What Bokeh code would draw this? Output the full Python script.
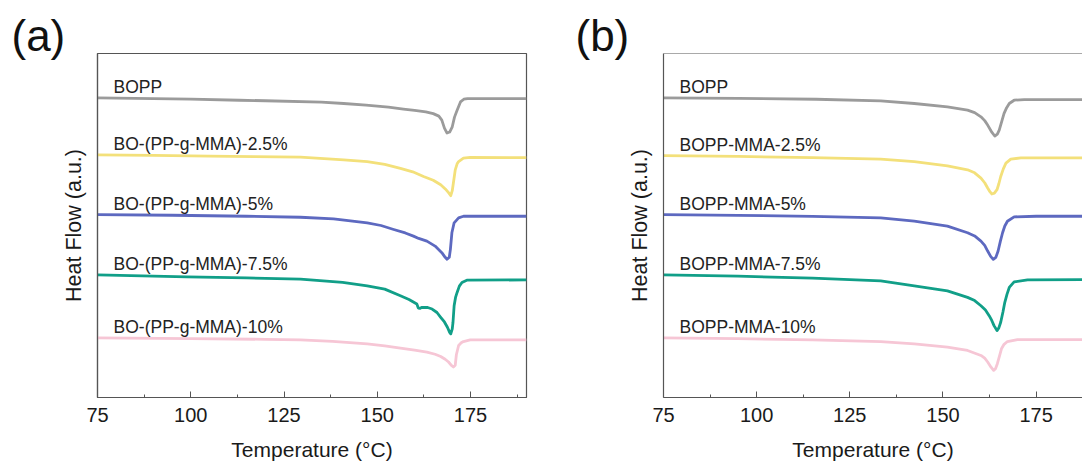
from bokeh.plotting import figure
from bokeh.models import Range1d, FixedTicker, Span
from bokeh.layouts import row
from bokeh.core.properties import value
from bokeh.embed import file_html
from bokeh.resources import INLINE

FONT = "Liberation Sans"

# ---------------- data (heat flow in arbitrary units, curves offset vertically) ----------------
labels_a = ["BOPP", "BO-(PP-g-MMA)-2.5%", "BO-(PP-g-MMA)-5%", "BO-(PP-g-MMA)-7.5%", "BO-(PP-g-MMA)-10%"]
labels_b = ["BOPP", "BOPP-MMA-2.5%", "BOPP-MMA-5%", "BOPP-MMA-7.5%", "BOPP-MMA-10%"]
colors = ["#9b9b9b", "#f3e07a", "#5d69c0", "#119f88", "#f6c6d5"]
x_ticks = [75, 100, 125, 150, 175]
x_minor = [87.5, 112.5, 137.5, 162.5, 187.5]

# panel (a)
a_bopp_T = [75, 90, 100, 113, 120, 135, 141, 147, 153, 157, 160, 163, 165, 166.5, 167.3, 168, 168.7, 169.4, 170.1, 170.7, 171.4, 172.3, 173.2, 174.2, 180, 190]
a_bopp_H = [301.3, 300.7, 300.2, 299, 298.5, 297, 295.7, 294, 292, 290, 288.7, 287.3, 285.5, 283, 279, 271, 266, 267, 272.3, 282, 289, 297.3, 300, 300.7, 300.7, 300.7]

a_25_T = [75, 90, 105, 117, 129.4, 141, 147.3, 152, 156.2, 159.5, 162.4, 165, 167, 168.3, 169.1, 169.7, 170.1, 170.4, 170.9, 171.4, 171.8, 173.1, 174.9, 190]
a_25_H = [244, 243.5, 242.7, 242.3, 241.7, 239, 237.3, 234.5, 230.5, 227, 222.3, 218.5, 214, 209.5, 206, 203, 208, 215.7, 229, 235, 237.3, 240.7, 241.5, 241.3]

a_5_T = [75, 95, 115, 129.4, 138.3, 147.3, 151, 154.4, 157.5, 159.7, 161.1, 163.3, 165.5, 167.3, 168.2, 168.7, 169.3, 169.6, 170, 170.6, 171.8, 173.1, 190]
a_5_H = [184, 183.3, 182.3, 181.3, 179.7, 175.7, 173, 169, 165.5, 162.3, 160, 157.3, 152.3, 145.7, 141, 139, 141, 149, 165.7, 175.7, 180.7, 182.3, 182.3]

a_75_T = [75, 99, 115, 129.4, 140.7, 147.3, 152, 156.2, 158.5, 160.6, 161, 161.5, 162, 163.5, 164.7, 166, 167, 168, 168.8, 169.4, 169.7, 170.1, 170.3, 170.6, 171, 171.4, 172, 172.7, 174, 190]
a_75_H = [123.3, 121.3, 120.3, 119, 115.7, 112.3, 109, 102.3, 98.5, 94, 90, 89.7, 90.7, 90.5, 89, 85.5, 80.7, 76, 70.7, 65.5, 64, 69, 75.7, 92.3, 101, 105.7, 112, 115.7, 118, 118.3]

a_10_T = [75, 100, 120, 129.4, 138, 147.3, 152, 156.2, 160, 163.3, 165.5, 167, 168.2, 169.1, 169.8, 170.4, 170.9, 171.2, 171.8, 172.5, 173.1, 174.9, 190]
a_10_H = [60, 59.3, 58.5, 58, 56.5, 54, 52, 49.7, 47.7, 45.7, 43.5, 41.3, 38.5, 35.7, 32.5, 30.7, 32.5, 43, 52.3, 55, 56.3, 58, 58]

# panel (b)
b_bopp_T = [75, 95, 116, 133.3, 142.3, 151.2, 156.6, 158.5, 160.2, 161.2, 162, 163, 163.9, 164.6, 165.1, 165.8, 166.4, 167.1, 167.8, 169.1, 171.8, 190]
b_bopp_H = [301.3, 300.8, 300, 298.3, 295.7, 292.3, 289, 286.5, 282.3, 278.5, 274, 267.5, 263, 265, 269, 278, 285.7, 291.5, 295.7, 299, 299.7, 299.7]

b_25_T = [75, 95, 115, 133.3, 142.3, 151.2, 156.6, 158.5, 160.2, 161.2, 162, 162.6, 163.1, 163.8, 164.5, 165, 165.5, 166.2, 166.9, 168.2, 170.9, 190]
b_25_H = [243.3, 242.5, 241.3, 239.7, 237.3, 233, 229, 226, 220.7, 216, 210.7, 207, 204.7, 205.5, 209, 215, 222.3, 230, 235.7, 239.7, 241, 241]

b_5_T = [75, 95, 115, 133.3, 142.3, 151.2, 156.6, 158.5, 160.2, 161.2, 162, 162.8, 163.5, 164.2, 164.8, 165.4, 166, 166.6, 167.3, 169.1, 175, 190]
b_5_H = [184, 183.2, 182.2, 180.7, 177.3, 172.3, 165.7, 162.5, 157.3, 153, 147.3, 142, 139, 141, 147.3, 157, 165.7, 172.5, 177.3, 181.7, 182.3, 182.3]

b_75_T = [75, 95, 115, 133.3, 142.3, 151.2, 156.6, 158.5, 160.2, 161.4, 162.4, 163.1, 163.7, 164.5, 165, 165.5, 166.1, 166.6, 167.2, 167.8, 169.1, 172.7, 190]
b_75_H = [123.3, 122, 120, 117.3, 112.3, 107.3, 100.7, 97.5, 92.3, 88, 82.3, 77.5, 72.3, 67.3, 70, 75.7, 86, 95.7, 104, 110.7, 116.3, 118.3, 118.7]

b_10_T = [75, 95, 115, 133.3, 142.3, 151.2, 156.6, 160.2, 161.2, 162, 162.9, 163.6, 164.1, 164.6, 165.2, 165.7, 166.4, 167.3, 170, 190]
b_10_H = [60, 59.2, 58, 56.3, 54, 50.7, 47.3, 42.3, 39.5, 35.7, 30.5, 27.3, 29, 34, 42, 49, 53.5, 56.3, 58.3, 58.3]

series_a = [(a_bopp_T, a_bopp_H), (a_25_T, a_25_H), (a_5_T, a_5_H), (a_75_T, a_75_H), (a_10_T, a_10_H)]
series_b = [(b_bopp_T, b_bopp_H), (b_25_T, b_25_H), (b_5_T, b_5_H), (b_75_T, b_75_H), (b_10_T, b_10_H)]

FRAME_H = 346
AXIS_COLOR = "#555555"


def make_panel(tag, series, labels, width, border_left, border_right, x_end, outline, tag_x):
    p = figure(width=width, height=463, output_backend="svg", toolbar_location=None,
               x_range=Range1d(75, x_end), y_range=Range1d(0, FRAME_H),
               min_border_left=border_left, min_border_right=border_right,
               min_border_top=53, min_border_bottom=64, title=tag)
    p.title.align = "left"
    p.title.offset = tag_x - border_left
    p.title.text_font = FONT
    p.title.text_font_size = "44px"
    p.title.text_font_style = "normal"
    p.title.text_color = "#111111"
    p.title.standoff = -12
    p.grid.visible = False
    p.background_fill_color = "white"
    p.border_fill_color = "white"
    if outline:
        p.outline_line_color = AXIS_COLOR
        p.outline_line_width = 1.2
    else:
        p.outline_line_color = None
        p.add_layout(Span(location=FRAME_H, dimension="width", line_color=AXIS_COLOR, line_width=1.2))

    xa = p.xaxis[0]
    xa.ticker = FixedTicker(ticks=x_ticks, minor_ticks=x_minor)
    xa.axis_line_color = AXIS_COLOR
    xa.axis_line_width = 1.2
    xa.major_tick_line_color = AXIS_COLOR
    xa.minor_tick_line_color = AXIS_COLOR
    xa.major_tick_in = 6
    xa.major_tick_out = 0
    xa.minor_tick_in = 3
    xa.minor_tick_out = 0
    xa.major_label_text_font = FONT
    xa.major_label_text_font_size = "20px"
    xa.major_label_text_color = "#1a1a1a"
    xa.major_label_standoff = 10
    xa.axis_label = "Temperature (°C)"
    xa.axis_label_text_font = FONT
    xa.axis_label_text_font_size = "21px"
    xa.axis_label_text_font_style = "normal"
    xa.axis_label_text_color = "#1a1a1a"
    xa.axis_label_standoff = 13

    ya = p.yaxis[0]
    ya.ticker = FixedTicker(ticks=[])
    ya.axis_line_color = AXIS_COLOR
    ya.axis_line_width = 1.2
    ya.major_tick_in = 0
    ya.major_tick_out = 0
    ya.minor_tick_in = 0
    ya.minor_tick_out = 0
    ya.major_label_text_font_size = "0px"
    ya.axis_label = "Heat Flow (a.u.)"
    ya.axis_label_text_font = FONT
    ya.axis_label_text_font_size = "21.5px"
    ya.axis_label_text_font_style = "normal"
    ya.axis_label_text_color = "#1a1a1a"
    ya.axis_label_standoff = 12

    for (T, H), c, lab in zip(series, colors, labels):
        p.line(T, H, line_color=c, line_width=2.8, line_join="round")
        p.text(x=[79.3], y=[H[0] + 11], text=[lab], text_font=value(FONT),
               text_font_size="17.5px", text_color="#222222",
               text_baseline="alphabetic", text_align="left")
    return p


pa = make_panel("(a)", series_a, labels_a, 560, 97, 34, 190, True, 11)
pb = make_panel("(b)", series_b, labels_b, 522, 103, 0, 187.45, False, 575 - 560)

layout = row(pa, pb, spacing=0)
open("out.html", "w").write(file_html(layout, INLINE))
